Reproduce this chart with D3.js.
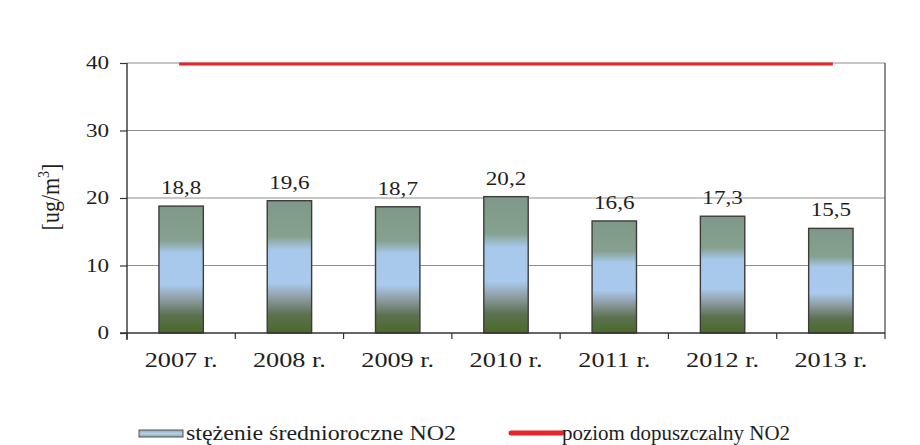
<!DOCTYPE html>
<html lang="pl">
<head>
<meta charset="UTF-8">
<title>NO2</title>
<script src="https://cdn.jsdelivr.net/npm/d3@7"></script>
<style>
    body { margin: 0; background: #fff; }
    text { font-family: "Liberation Serif", "Times New Roman", serif; fill: #1e1e1e; }
</style>
</head>
<body>
<div id="chart"></div>
<script>
    // dane
    var years = ["2007 r.", "2008 r.", "2009 r.", "2010 r.", "2011 r.", "2012 r.", "2013 r."];
    var no2Mean = [18.8, 19.6, 18.7, 20.2, 16.6, 17.3, 15.5];
    var no2Limit = 40;
    var yTicks = [0, 10, 20, 30, 40];
    var seriesNames = ["stężenie średnioroczne NO2", "poziom dopuszczalny NO2"];

    var width = 920, height = 445;
    var margin = {top: 63, right: 35, bottom: 112, left: 127};
    var stretch = 1.25; // tekst w oryginale jest rozciągnięty w poziomie

    var svg = d3.select("#chart").append("svg")
        .attr("width", width)
        .attr("height", height);

    var defs = svg.append("defs");
    var grad = defs.append("linearGradient")
        .attr("id", "barGrad")
        .attr("x1", 0).attr("y1", 0).attr("x2", 0).attr("y2", 1);
    [[0, "#7f9889"], [0.27, "#86a190"], [0.37, "#a7c8ea"], [0.62, "#a9caec"],
     [0.73, "#909ea6"], [0.86, "#5b7150"], [1, "#4b6a28"]].forEach(function (s) {
        grad.append("stop").attr("offset", s[0]).attr("stop-color", s[1]);
    });

    var x = d3.scaleBand()
        .domain(years)
        .range([margin.left, width - margin.right])
        .paddingInner(0.59)
        .paddingOuter(0.295);
    var xEdge = d3.scaleBand()
        .domain(years)
        .range([margin.left, width - margin.right]);
    var y = d3.scaleLinear()
        .domain([0, 40])
        .range([height - margin.bottom, margin.top]);

    // siatka
    svg.append("g")
        .selectAll("line")
        .data(yTicks.filter(function (d) { return d > 0; }))
        .enter().append("line")
        .attr("x1", margin.left).attr("x2", width - margin.right)
        .attr("y1", function (d) { return y(d); })
        .attr("y2", function (d) { return y(d); })
        .attr("stroke", "#8e8e8e")
        .attr("stroke-width", 1);

    // prawa krawędź
    svg.append("line")
        .attr("x1", width - margin.right).attr("x2", width - margin.right)
        .attr("y1", y(40)).attr("y2", y(0))
        .attr("stroke", "#444").attr("stroke-width", 1.2);

    // słupki
    svg.append("g")
        .selectAll("rect")
        .data(no2Mean)
        .enter().append("rect")
        .attr("x", function (d, i) { return x(years[i]); })
        .attr("y", function (d) { return y(d); })
        .attr("width", x.bandwidth())
        .attr("height", function (d) { return y(0) - y(d); })
        .attr("fill", "url(#barGrad)")
        .attr("stroke", "#3a3d3a")
        .attr("stroke-width", 1.4);

    // etykiety wartości
    svg.append("g")
        .selectAll("text")
        .data(no2Mean)
        .enter().append("text")
        .attr("text-anchor", "middle")
        .attr("font-size", 18.5)
        .attr("transform", function (d, i) {
            return "translate(" + (x(years[i]) + x.bandwidth() / 2) + "," + (y(d) - 12) + ") scale(" + stretch + ",1)";
        })
        .text(function (d) { return d3.format(".1f")(d).replace(".", ","); });

    // poziom dopuszczalny
    svg.append("line")
        .attr("x1", x(years[0]) + x.bandwidth() / 2 - 2)
        .attr("x2", x(years[years.length - 1]) + x.bandwidth() / 2 + 2)
        .attr("y1", y(no2Limit) + 1)
        .attr("y2", y(no2Limit) + 1)
        .attr("stroke", "#e8232b")
        .attr("stroke-width", 3.2);

    // oś Y
    var yAxis = svg.append("g")
        .attr("transform", "translate(" + margin.left + ",0)")
        .call(d3.axisLeft(y).tickValues(yTicks).tickSize(7).tickSizeOuter(0));
    yAxis.select(".domain").attr("stroke", "#333").attr("stroke-width", 1.4)
        .attr("d", "M0," + y(40) + "V" + (y(0) + 7));
    yAxis.selectAll(".tick line").attr("stroke", "#333").attr("stroke-width", 1.2);
    yAxis.selectAll(".tick text")
        .attr("font-family", null)
        .attr("font-size", 18.5)
        .attr("fill", "#1e1e1e")
        .attr("x", -18 / stretch)
        .attr("transform", "scale(" + stretch + ",1)");

    // oś X
    svg.append("line")
        .attr("x1", margin.left - 7).attr("x2", width - margin.right)
        .attr("y1", y(0)).attr("y2", y(0))
        .attr("stroke", "#333").attr("stroke-width", 1.4);
    var edges = years.map(function (d) { return xEdge(d); })
        .concat([xEdge(years[years.length - 1]) + xEdge.bandwidth()]);
    svg.append("g")
        .selectAll("line")
        .data(edges)
        .enter().append("line")
        .attr("x1", function (d) { return d; })
        .attr("x2", function (d) { return d; })
        .attr("y1", y(0)).attr("y2", y(0) + 6)
        .attr("stroke", "#333").attr("stroke-width", 1.2);
    svg.append("g")
        .selectAll("text")
        .data(years)
        .enter().append("text")
        .attr("text-anchor", "middle")
        .attr("font-size", 21)
        .attr("transform", function (d) {
            return "translate(" + (x(d) + x.bandwidth() / 2) + "," + (y(0) + 34) + ") scale(" + stretch + ",1)";
        })
        .text(function (d) { return d; });

    // tytuł osi Y
    var yTitle = svg.append("text")
        .attr("text-anchor", "middle")
        .attr("font-size", 22)
        .attr("transform", "translate(59," + ((y(0) + y(40)) / 2 - 1) + ") scale(1.15,1) rotate(-90)");
    yTitle.append("tspan").text("[ug/m");
    yTitle.append("tspan").attr("font-size", 14).attr("dy", -9).text("3");
    yTitle.append("tspan").attr("dy", 9).text("]");

    // legenda
    var legY = 433;
    var legendGrad = defs.append("linearGradient")
        .attr("id", "legGrad")
        .attr("x1", 0).attr("y1", 0).attr("x2", 0).attr("y2", 1);
    legendGrad.append("stop").attr("offset", 0).attr("stop-color", "#8fa6b0");
    legendGrad.append("stop").attr("offset", 0.5).attr("stop-color", "#b4d2ea");
    legendGrad.append("stop").attr("offset", 1).attr("stop-color", "#8fa6a0");
    svg.append("rect")
        .attr("x", 139).attr("y", legY - 3)
        .attr("width", 44).attr("height", 7)
        .attr("fill", "url(#legGrad)")
        .attr("stroke", "#555").attr("stroke-width", 1);
    svg.append("text")
        .attr("x", 186).attr("y", legY + 7)
        .attr("font-size", 21)
        .attr("textLength", 270)
        .attr("lengthAdjust", "spacingAndGlyphs")
        .text(seriesNames[0]);
    svg.append("line")
        .attr("x1", 511).attr("x2", 562)
        .attr("y1", legY).attr("y2", legY)
        .attr("stroke", "#e8232b").attr("stroke-width", 5)
        .attr("stroke-linecap", "round");
    svg.append("text")
        .attr("x", 562).attr("y", legY + 7)
        .attr("font-size", 21)
        .attr("textLength", 228)
        .attr("lengthAdjust", "spacingAndGlyphs")
        .text(seriesNames[1]);
</script>
</body>
</html>
